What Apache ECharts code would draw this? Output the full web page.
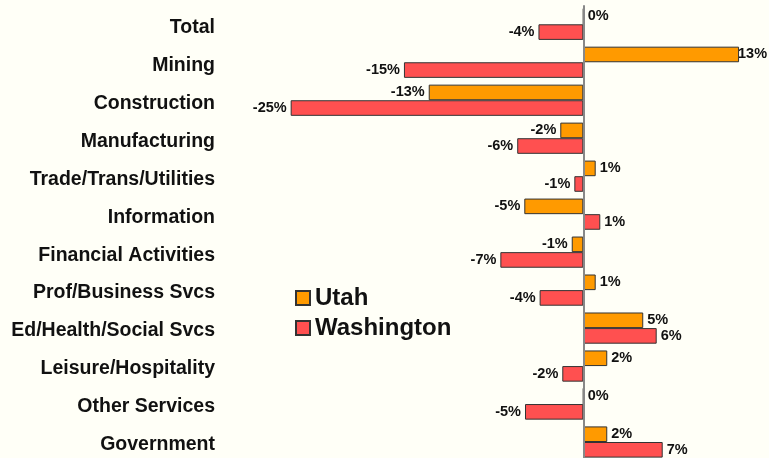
<!DOCTYPE html>
<html>
<head>
<meta charset="utf-8">
<script src="https://cdn.jsdelivr.net/npm/echarts@6/dist/echarts.min.js"></script>
<style>
  html, body { margin: 0; padding: 0; background: #FFFFF7; overflow: hidden; }
  #chart { width: 769px; height: 464px; }
</style>
</head>
<body>
<div id="chart"></div>
<script>
// categories, top to bottom
const categories = ['Total', 'Mining', 'Construction', 'Manufacturing', 'Trade/Trans/Utilities',
  'Information', 'Financial Activities', 'Prof/Business Svcs', 'Ed/Health/Social Svcs',
  'Leisure/Hospitality', 'Other Services', 'Government']
// percent change
const utah = [0, 13.2, -13.1, -1.95, 1.05, -5.0, -0.98, 1.05, 5.08, 2.03, 0, 2.03]
const washington = [-3.8, -15.2, -24.8, -5.6, -0.76, 1.44, -7.03, -3.7, 6.22, -1.78, -4.94, 6.73]

const labelFont = {fontFamily: 'Liberation Sans, Arial, sans-serif', fontWeight: 'bold', color: '#111'}

// negative bars get their label on the left, the rest on the right
const toItems = (vals) => vals.map(v => ({
  value: v,
  label: {position: v < 0 ? 'left' : 'right', distance: v > 10 ? -1 : 4}
}))

const makeSeries = (name, vals, color) => ({
  name: name,
  type: 'bar',
  barWidth: 15.6,
  barGap: '0%',
  itemStyle: {color: color, borderColor: '#333', borderWidth: 1},
  label: {
    show: true,
    fontSize: 14.5,
    ...labelFont,
    formatter: p => Math.round(p.value) + '%'
  },
  data: toItems(vals)
})

let chart = echarts.init(document.getElementById('chart'))
let seriesUtah = makeSeries('Utah', utah, '#FF9A00')
seriesUtah.markLine = {
  silent: true,
  symbol: 'none',
  label: {show: false},
  lineStyle: {color: '#888', width: 2, type: 'solid'},
  data: [{xAxis: 0}]
}
let seriesWa = makeSeries('Washington', washington, '#FF5050')

chart.setOption({
  animation: false,
  backgroundColor: '#FFFFF7',
  // second grid only carries the category names, sitting a few px lower
  grid: [
    {left: 276.5, right: 8.7, top: 5.3, bottom: 3},
    {left: 276.5, right: 8.7, top: 8.3, bottom: 0}
  ],
  legend: {
    orient: 'vertical',
    left: 290,
    top: 281,
    itemWidth: 14,
    itemHeight: 14,
    itemGap: 6,
    icon: 'rect',
    data: ['Utah', 'Washington'],
    textStyle: {fontSize: 24, ...labelFont}
  },
  xAxis: [
    {type: 'value', gridIndex: 0, min: -26, max: 15, show: false},
    {type: 'value', gridIndex: 1, min: -26, max: 15, show: false}
  ],
  yAxis: [
    {
      type: 'category',
      gridIndex: 0,
      inverse: true,
      data: categories,
      axisLine: {show: false, onZero: false},
      axisTick: {show: false},
      axisLabel: {show: false}
    },
    {
      type: 'category',
      gridIndex: 1,
      inverse: true,
      data: categories,
      axisLine: {show: false, onZero: false},
      axisTick: {show: false},
      axisLabel: {margin: 61.5, fontSize: 19.5, ...labelFont}
    }
  ],
  series: [seriesUtah, seriesWa]
})
</script>
</body>
</html>
